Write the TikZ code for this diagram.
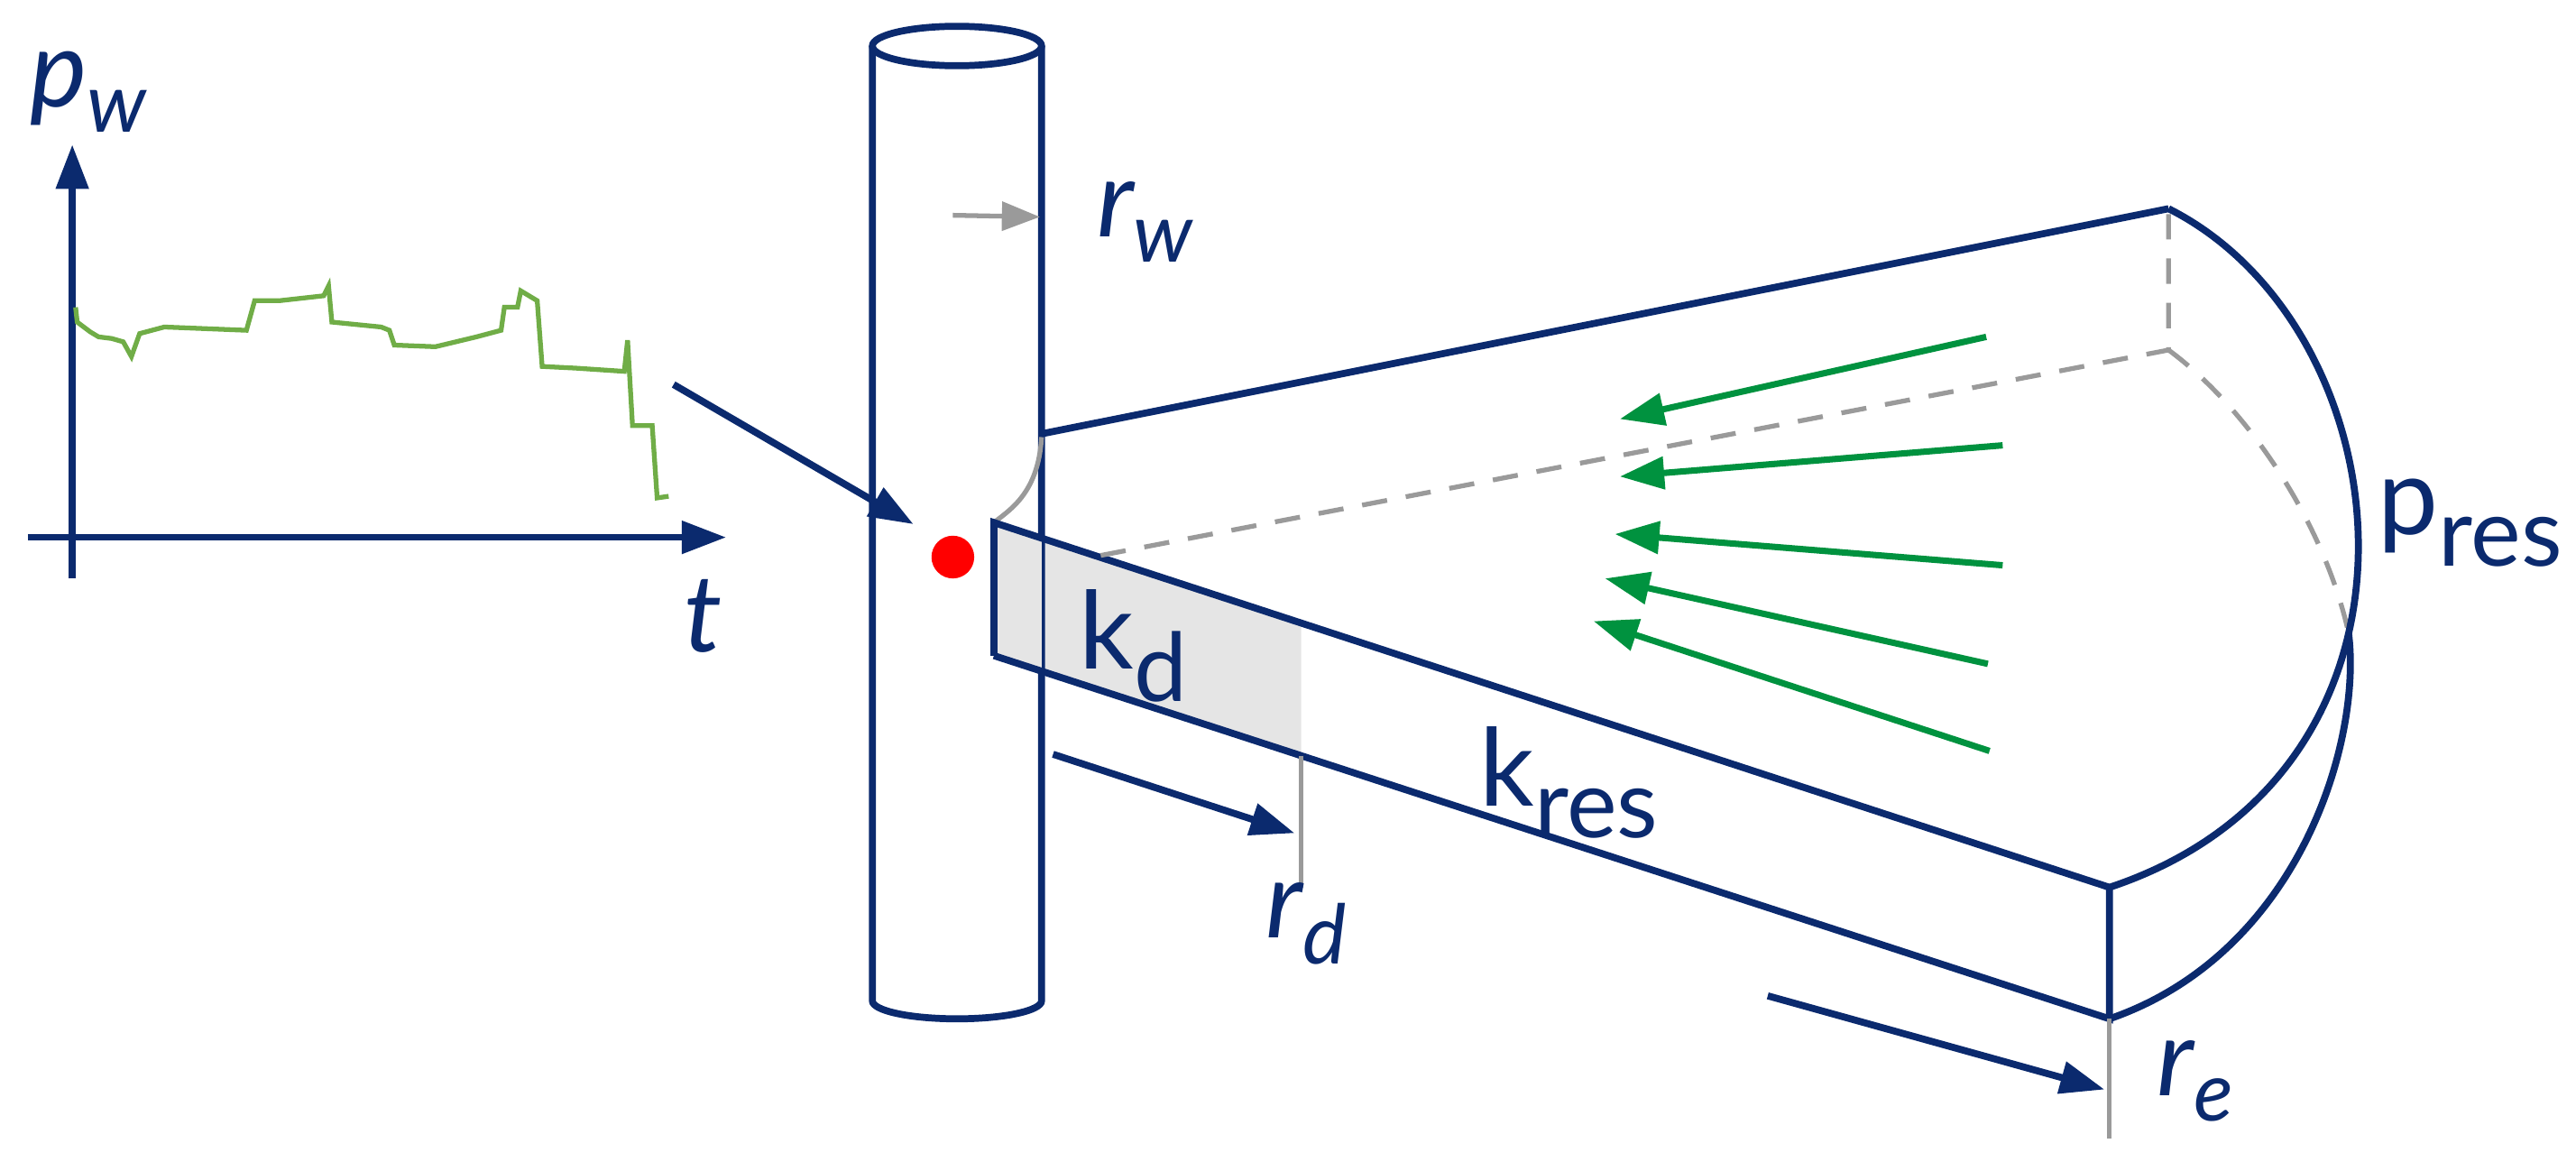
\documentclass[tikz,border=0pt]{standalone}
\usepackage{fontspec}
\setmainfont{Lato}
\usetikzlibrary{arrows.meta}
\definecolor{navy}{HTML}{0B2A6E}
\definecolor{garrow}{HTML}{00923F}
\definecolor{gcurve}{HTML}{70AD47}
\definecolor{gline}{HTML}{9A9A9A}
\begin{document}
\begin{tikzpicture}[x=0.018214cm,y=-0.018214cm,
  ln/.style={navy,line width=2.2pt},
  ar/.style={ln,-{Triangle[length=14pt,width=10pt]}},
  gr/.style={garrow,line width=2pt,-{Triangle[length=14pt,width=10pt]}},
  lab/.style={navy,font=\fontsize{34}{40}\selectfont,inner sep=0pt}]
\useasboundingbox (0,0) rectangle (1568,707);
% graph
\draw[ar] (44,352) -- (44,88);
\draw[ar] (17,327) -- (442,327);
\node[lab] (pw) at (54,56) {\itshape p\raisebox{-8pt}{\fontsize{26}{30}\selectfont w}};
\node[lab] (t) at (428,375) {\itshape t};
\draw[gcurve,line width=1.5pt] (46,187)--(47,196)--(55,202)--(60,205)--(68,206)--(75,208)--(80,217)--(85,203)--(100,199)--(150,201)--(155,183)--(170,183)--(197,180)--(200,174)--(202,196)--(232,199)--(237,201)--(240,210)--(265,211)--(290,205)--(305,201)--(307,187)--(315,187)--(317,177)--(327,183)--(330,223)--(350,224)--(380,226)--(382,207)--(385,259)--(397,259)--(400,303)--(407,302);
% slab shading
\coordinate (A) at (605,318); \coordinate (B) at (605,399);
\coordinate (C) at (1284,540); \coordinate (D) at (1284,620);
\coordinate (T) at (1320,127); \coordinate (Td) at (1320,213);
\coordinate (X) at (1429.5,385);
\fill[gray!20] (A) -- (792,379) -- (792,460) -- (B) -- cycle;
% wellbore
\draw[ln,fill=white] (531,28) -- (531,609) arc[start angle=180,end angle=0,x radius=51.5,y radius=11] -- (634,28);
\draw[ln] (582.5,28) ellipse[x radius=51.5,y radius=12];
\fill[gray!20] (A) -- (634,327) -- (634,408) -- (B) -- cycle;
% slab
\draw[ln] (634,264) -- (T);
\draw[gline,line width=1.5pt] (634,266) .. controls (632,300) and (615,310) .. (A);
\draw[ln] (B) -- (A) -- (C) -- (D) -- (B);
\draw[gline,line width=1.5pt,dash pattern=on 8pt off 6pt] (670,338) -- (Td) -- (T);
\draw[gline,line width=1.5pt,dash pattern=on 8pt off 6pt] (Td) .. controls (1370,250) and (1415,320) .. (X);
\draw[ln] (T) .. controls (1465,200) and (1495,470) .. (C);
\draw[ln] (X) .. controls (1438,450) and (1400,580) .. (D);
\draw[gline,line width=1.5pt] (792,460) -- (792,540);
\draw[gline,line width=1.5pt] (D) -- (1284,693);
% labels
\node[lab] (kd) at (690,393) {k\raisebox{-10pt}{\fontsize{30}{34}\selectfont d}};
\node[lab] (kres) at (955,476) {k\raisebox{-10pt}{\fontsize{30}{34}\selectfont res}};
\node[lab,anchor=east] (pres) at (1560,318) {p\raisebox{-10pt}{\fontsize{30}{34}\selectfont res}};
\node[lab] (rw) at (697,135) {\itshape r\raisebox{-8pt}{\fontsize{26}{30}\selectfont w}};
\node[lab] (rd) at (795,562) {\itshape r\raisebox{-8pt}{\fontsize{26}{30}\selectfont d}};
\node[lab] (re) at (1336,658) {\itshape r\raisebox{-8pt}{\fontsize{26}{30}\selectfont e}};
% arrows
\draw[gline,line width=1.5pt,-{Triangle[length=12pt,width=9pt]}] (580,131) -- (633,132);
\draw[ar] (410,234) -- (556,319);
\fill[red] (580,339) circle[radius=13];
\draw[ar] (641,459) -- (788,507);
\draw[ar] (1076,606) -- (1281,663);
\draw[gr] (1209,205) -- (986,255);
\draw[gr] (1219,271) -- (986,290);
\draw[gr] (1219,344) -- (983,325);
\draw[gr] (1210,404) -- (977,352);
\draw[gr] (1211,457) -- (970,378);
\end{tikzpicture}
\end{document}
